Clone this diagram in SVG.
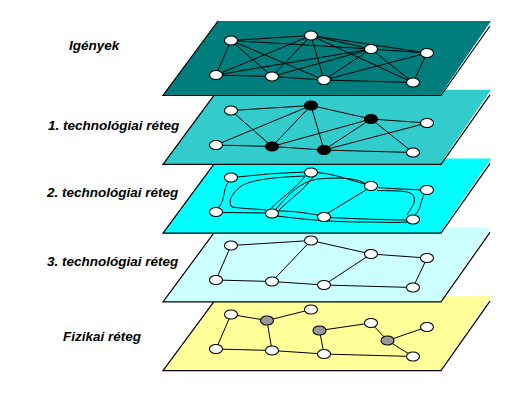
<svg xmlns="http://www.w3.org/2000/svg" xmlns:xlink="http://www.w3.org/1999/xlink" width="514" height="401" viewBox="0 0 514 401">
<style>
.lbl{font-family:"Liberation Sans",Arial,sans-serif;font-size:13.5px;font-weight:bold;font-style:italic;fill:#000}
.edge{stroke:#000;stroke-width:1;fill:none}
.outline{stroke:#000;stroke-width:1.2;fill:none}
.w{fill:#fff;stroke:#000;stroke-width:1.1}
.k{fill:#000;stroke:#000;stroke-width:1.1}
.gr{fill:#999;stroke:#000;stroke-width:1.1}
</style>
<defs>
<polygon id="plane" points="218,21 491,21 440,95.5 163,95.5"/>
<polyline id="rim" points="218,21 163,95.5 441,95.5 490,26"/>
</defs>
<rect width="514" height="401" fill="#fff"/>

<!-- Layer 5: Fizikai réteg -->
<g id="layer5">
<g transform="translate(0,275.2)"><use xlink:href="#plane" fill="#FFFF99"/><use xlink:href="#rim" class="outline"/></g>
<g id="conn5" class="edge">
<line x1="231" y1="314.5" x2="267" y2="320.5"/>
<line x1="267" y1="320.5" x2="311" y2="309.5"/>
<line x1="267" y1="320.5" x2="272" y2="350.5"/>
<line x1="231" y1="314.5" x2="216" y2="349"/>
<line x1="216" y1="349" x2="272" y2="350.5"/>
<line x1="272" y1="350.5" x2="324" y2="354"/>
<line x1="324" y1="354" x2="319.5" y2="330.5"/>
<line x1="319.5" y1="330.5" x2="371" y2="323"/>
<line x1="371" y1="323" x2="387.5" y2="340.5"/>
<line x1="387.5" y1="340.5" x2="427" y2="327"/>
<line x1="387.5" y1="340.5" x2="413" y2="356.5"/>
<line x1="324" y1="354" x2="413" y2="356.5"/>
</g>
<g id="n5A"><ellipse class="w" cx="231" cy="314.5" rx="6.5" ry="4.5"/></g>
<g id="n5B"><ellipse class="w" cx="311" cy="309.5" rx="6.5" ry="4.5"/></g>
<g id="n5C"><ellipse class="w" cx="371" cy="323" rx="6.5" ry="4.5"/></g>
<g id="n5D"><ellipse class="w" cx="427" cy="327" rx="6.5" ry="4.5"/></g>
<g id="n5E"><ellipse class="w" cx="216" cy="349" rx="6.5" ry="4.5"/></g>
<g id="n5F"><ellipse class="w" cx="272" cy="350.5" rx="6.5" ry="4.5"/></g>
<g id="n5G"><ellipse class="w" cx="324" cy="354" rx="6.5" ry="4.5"/></g>
<g id="n5H"><ellipse class="w" cx="413" cy="356.5" rx="6.5" ry="4.5"/></g>
<g id="n5P"><ellipse class="gr" cx="267" cy="320.5" rx="6.5" ry="4.5"/></g>
<g id="n5Q"><ellipse class="gr" cx="319.5" cy="330.5" rx="6.5" ry="4.5"/></g>
<g id="n5R"><ellipse class="gr" cx="387.5" cy="340.5" rx="6.5" ry="4.5"/></g>
</g>

<!-- Layer 4: 3. technológiai réteg -->
<g id="layer4">
<g transform="translate(0,206.4)"><use xlink:href="#plane" fill="#CCFFFF"/><use xlink:href="#rim" class="outline"/></g>
<g id="conn4" class="edge">
<line x1="231" y1="245.5" x2="311" y2="240.5"/>
<line x1="231" y1="245.5" x2="216" y2="280"/>
<line x1="311" y1="240.5" x2="371" y2="254"/>
<line x1="311" y1="240.5" x2="272" y2="281.5"/>
<line x1="371" y1="254" x2="427" y2="258"/>
<line x1="371" y1="254" x2="324" y2="285"/>
<line x1="427" y1="258" x2="413" y2="287.5"/>
<line x1="216" y1="280" x2="272" y2="281.5"/>
<line x1="272" y1="281.5" x2="324" y2="285"/>
<line x1="324" y1="285" x2="413" y2="287.5"/>
</g>
<g id="n4A"><ellipse class="w" cx="231" cy="245.5" rx="6.5" ry="4.5"/></g>
<g id="n4B"><ellipse class="w" cx="311" cy="240.5" rx="6.5" ry="4.5"/></g>
<g id="n4C"><ellipse class="w" cx="371" cy="254" rx="6.5" ry="4.5"/></g>
<g id="n4D"><ellipse class="w" cx="427" cy="258" rx="6.5" ry="4.5"/></g>
<g id="n4E"><ellipse class="w" cx="216" cy="280" rx="6.5" ry="4.5"/></g>
<g id="n4F"><ellipse class="w" cx="272" cy="281.5" rx="6.5" ry="4.5"/></g>
<g id="n4G"><ellipse class="w" cx="324" cy="285" rx="6.5" ry="4.5"/></g>
<g id="n4H"><ellipse class="w" cx="413" cy="287.5" rx="6.5" ry="4.5"/></g>
</g>

<!-- Layer 3: 2. technológiai réteg -->
<g id="layer3">
<g transform="translate(0,137.6)"><use xlink:href="#plane" fill="#00FFFF"/><use xlink:href="#rim" class="outline"/></g>
<g id="conn3" class="edge">
<path d="M237,177 Q270,173 305,172"/>
<path d="M229,181.5 C222,189 226,200 218,208"/>
<path d="M305,176 C280,177 250,179 240,187 C230,195 228,203 232,207 C245,209 258,209 266,210"/>
<path d="M222,212.5 L266,213"/>
<path d="M305,176.5 C296,188 281,198 270,209.5"/>
<path d="M313,177 C304,190 289,200 279,210"/>
<path d="M276,209 C288,196 298,182 318,179 C340,177 358,178 366,184"/>
<path d="M317,172.5 C336,174 352,181 365,184"/>
<path d="M378,187.5 C395,189 408,189 420,190"/>
<path d="M377,190.5 C398,191 412,190 414,197 C416,204 410,209 407,215"/>
<path d="M424,194.5 C420,203 421,209 415,215"/>
<path d="M328,213 L366,190"/>
<path d="M330,217.5 C360,219 390,220 406,220"/>
<path d="M278,211 C295,211 305,213 318,215"/>
<path d="M277,216 C300,219 330,222 360,222 C385,222 395,223 407,222"/>
</g>
<g id="n3A"><ellipse class="w" cx="231" cy="177.5" rx="6.5" ry="4.5"/></g>
<g id="n3B"><ellipse class="w" cx="311" cy="172.5" rx="6.5" ry="4.5"/></g>
<g id="n3C"><ellipse class="w" cx="371" cy="186" rx="6.5" ry="4.5"/></g>
<g id="n3D"><ellipse class="w" cx="427" cy="190" rx="6.5" ry="4.5"/></g>
<g id="n3E"><ellipse class="w" cx="216" cy="212" rx="6.5" ry="4.5"/></g>
<g id="n3F"><ellipse class="w" cx="272" cy="213.5" rx="6.5" ry="4.5"/></g>
<g id="n3G"><ellipse class="w" cx="324" cy="217" rx="6.5" ry="4.5"/></g>
<g id="n3H"><ellipse class="w" cx="413" cy="219.5" rx="6.5" ry="4.5"/></g>
</g>

<!-- Layer 2: 1. technológiai réteg -->
<g id="layer2">
<g transform="translate(0,68.8)"><use xlink:href="#plane" fill="#33CCCC"/><use xlink:href="#rim" class="outline"/></g>
<g id="conn2" class="edge">
<line x1="231" y1="110.5" x2="311" y2="105.5"/>
<line x1="231" y1="110.5" x2="272" y2="146.5"/>
<line x1="216" y1="145" x2="311" y2="105.5"/>
<line x1="216" y1="145" x2="272" y2="146.5"/>
<line x1="311" y1="105.5" x2="272" y2="146.5"/>
<line x1="311" y1="105.5" x2="324" y2="150"/>
<line x1="311" y1="105.5" x2="371" y2="119"/>
<line x1="272" y1="146.5" x2="371" y2="119"/>
<line x1="371" y1="119" x2="324" y2="150"/>
<line x1="371" y1="119" x2="427" y2="123"/>
<line x1="371" y1="119" x2="413" y2="152.5"/>
<line x1="272" y1="146.5" x2="324" y2="150"/>
<line x1="324" y1="150" x2="413" y2="152.5"/>
<line x1="324" y1="150" x2="427" y2="123"/>
</g>
<g id="n2A"><ellipse class="w" cx="231" cy="110.5" rx="6.5" ry="4.5"/></g>
<g id="n2B"><ellipse class="k" cx="311" cy="105.5" rx="6.5" ry="4.5"/></g>
<g id="n2C"><ellipse class="k" cx="371" cy="119" rx="6.5" ry="4.5"/></g>
<g id="n2D"><ellipse class="w" cx="427" cy="123" rx="6.5" ry="4.5"/></g>
<g id="n2E"><ellipse class="w" cx="216" cy="145" rx="6.5" ry="4.5"/></g>
<g id="n2F"><ellipse class="k" cx="272" cy="146.5" rx="6.5" ry="4.5"/></g>
<g id="n2G"><ellipse class="k" cx="324" cy="150" rx="6.5" ry="4.5"/></g>
<g id="n2H"><ellipse class="w" cx="413" cy="152.5" rx="6.5" ry="4.5"/></g>
</g>

<!-- Layer 1: Igények -->
<g id="layer1">
<g><use xlink:href="#plane" fill="#007D7D"/><use xlink:href="#rim" class="outline"/></g>
<g id="conn1" class="edge">
<line x1="231" y1="40.5" x2="311" y2="35.5"/>
<line x1="231" y1="40.5" x2="371" y2="49"/>
<line x1="231" y1="40.5" x2="216" y2="75"/>
<line x1="231" y1="40.5" x2="272" y2="76.5"/>
<line x1="231" y1="40.5" x2="324" y2="80"/>
<line x1="311" y1="35.5" x2="371" y2="49"/>
<line x1="311" y1="35.5" x2="427" y2="53"/>
<line x1="311" y1="35.5" x2="216" y2="75"/>
<line x1="311" y1="35.5" x2="272" y2="76.5"/>
<line x1="311" y1="35.5" x2="324" y2="80"/>
<line x1="311" y1="35.5" x2="413" y2="82.5"/>
<line x1="371" y1="49" x2="427" y2="53"/>
<line x1="371" y1="49" x2="216" y2="75"/>
<line x1="371" y1="49" x2="272" y2="76.5"/>
<line x1="371" y1="49" x2="324" y2="80"/>
<line x1="371" y1="49" x2="413" y2="82.5"/>
<line x1="427" y1="53" x2="324" y2="80"/>
<line x1="427" y1="53" x2="413" y2="82.5"/>
<line x1="216" y1="75" x2="272" y2="76.5"/>
<line x1="272" y1="76.5" x2="324" y2="80"/>
<line x1="324" y1="80" x2="413" y2="82.5"/>
</g>
<g id="n1A"><ellipse class="w" cx="231" cy="40.5" rx="6.5" ry="4.5"/></g>
<g id="n1B"><ellipse class="w" cx="311" cy="35.5" rx="6.5" ry="4.5"/></g>
<g id="n1C"><ellipse class="w" cx="371" cy="49" rx="6.5" ry="4.5"/></g>
<g id="n1D"><ellipse class="w" cx="427" cy="53" rx="6.5" ry="4.5"/></g>
<g id="n1E"><ellipse class="w" cx="216" cy="75" rx="6.5" ry="4.5"/></g>
<g id="n1F"><ellipse class="w" cx="272" cy="76.5" rx="6.5" ry="4.5"/></g>
<g id="n1G"><ellipse class="w" cx="324" cy="80" rx="6.5" ry="4.5"/></g>
<g id="n1H"><ellipse class="w" cx="413" cy="82.5" rx="6.5" ry="4.5"/></g>
</g>

<g id="labels">
<text class="lbl" x="69" y="50">Igények</text>
<text class="lbl" x="48" y="130">1. technológiai réteg</text>
<text class="lbl" x="47" y="197">2. technológiai réteg</text>
<text class="lbl" x="47" y="266">3. technológiai réteg</text>
<text class="lbl" x="63" y="341">Fizikai réteg</text>
</g>
</svg>
